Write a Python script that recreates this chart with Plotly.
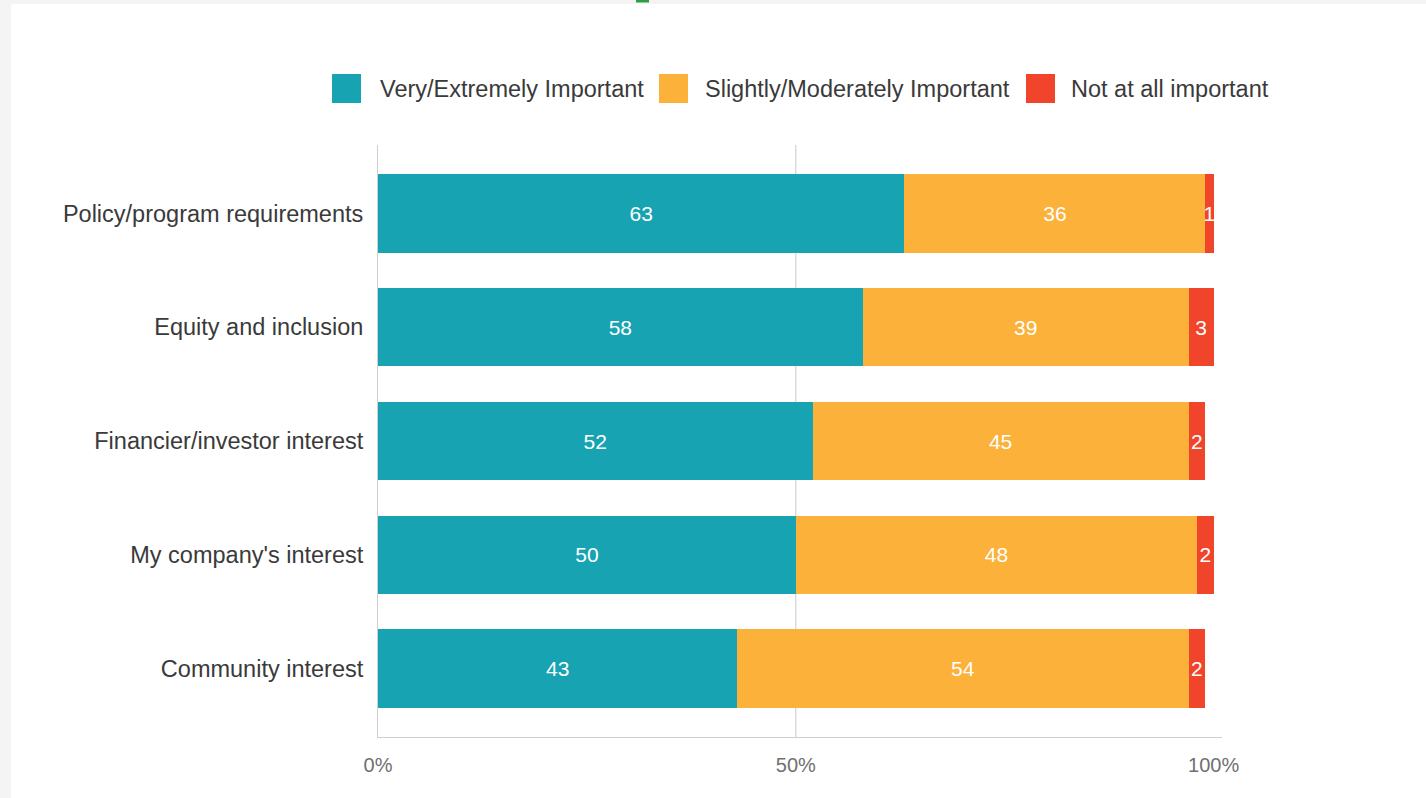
import plotly.graph_objects as go

categories = ["Policy/program requirements", "Equity and inclusion", "Financier/investor interest",
              "My company's interest", "Community interest"]
very_extremely = [63, 58, 52, 50, 43]
slightly_moderately = [36, 39, 45, 48, 54]
not_at_all = [1, 3, 2, 2, 2]
series_names = ["Very/Extremely Important", "Slightly/Moderately Important", "Not at all important"]
series_colors = ["#17a3b1", "#fbb13a", "#f0452a"]
x_tick_vals = [0, 50, 100]
x_tick_text = ["0%", "50%", "100%"]

FONT = "Liberation Sans, Arial, Helvetica, sans-serif"

fig = go.Figure()
for name, vals, col in zip(series_names, [very_extremely, slightly_moderately, not_at_all], series_colors):
    fig.add_trace(go.Bar(
        y=categories, x=vals, name=name, orientation="h",
        marker=dict(color=col, line=dict(width=0)),
        text=[str(v) for v in vals], textposition="inside", insidetextanchor="middle",
        constraintext="none",
        textfont=dict(color="white", size=21, family=FONT),
        showlegend=False,
    ))

# plot-area geometry (pixels) for paper-coordinate decorations
L, R, T, B = 378, 1222, 145, 737
W, H = R - L, B - T
def px(x):
    return (x - L) / W
def py(y):
    return (B - y) / H

shapes = [
    # white card
    dict(type="rect", xref="paper", yref="paper", x0=px(11), x1=px(1430), y0=py(4), y1=py(800),
         fillcolor="white", line=dict(width=0), layer="below"),
    # small green mark at top
    dict(type="rect", xref="paper", yref="paper", x0=px(636), x1=px(649), y0=py(0), y1=py(2.5),
         fillcolor="#2e9e44", line=dict(width=0), layer="above"),
    # 50% reference line
    dict(type="line", xref="x", yref="paper", x0=50, x1=50, y0=0, y1=1,
         line=dict(color="#c8c8c8", width=1), layer="below"),
]
annotations = []
legend_sq_x = [332, 659, 1026]
legend_txt_x = [378, 703, 1069]
for name, col, sx, tx in zip(series_names, series_colors, legend_sq_x, legend_txt_x):
    shapes.append(dict(type="rect", xref="paper", yref="paper", x0=px(sx), x1=px(sx + 29),
                       y0=py(103), y1=py(74), fillcolor=col, line=dict(width=0)))
    annotations.append(dict(xref="paper", yref="paper", x=px(tx), y=py(89), text=name,
                            showarrow=False, xanchor="left", yanchor="middle",
                            font=dict(size=23.5, color="#3a3a3a", family=FONT)))

fig.update_layout(
    barmode="stack", bargap=0.31,
    width=1426, height=798,
    margin=dict(l=L, r=1426 - R, t=T, b=798 - B, autoexpand=False),
    paper_bgcolor="#f4f4f4", plot_bgcolor="white",
    font=dict(family=FONT),
    shapes=shapes, annotations=annotations,
    showlegend=False,
    xaxis=dict(range=[0, 101], tickvals=x_tick_vals, ticktext=x_tick_text, showgrid=False,
               zeroline=False, showline=True, linecolor="#cfcfcf", linewidth=1, ticks="",
               ticklabelstandoff=10, tickfont=dict(size=20, color="#707070", family=FONT)),
    yaxis=dict(categoryorder="array", categoryarray=categories, range=[4.6, -0.6],
               showgrid=False, zeroline=False, showline=True, linecolor="#cfcfcf", linewidth=1,
               ticks="", ticklabelstandoff=9, tickfont=dict(size=23.5, color="#3a3a3a", family=FONT)),
)

fig.write_html("out.html")
